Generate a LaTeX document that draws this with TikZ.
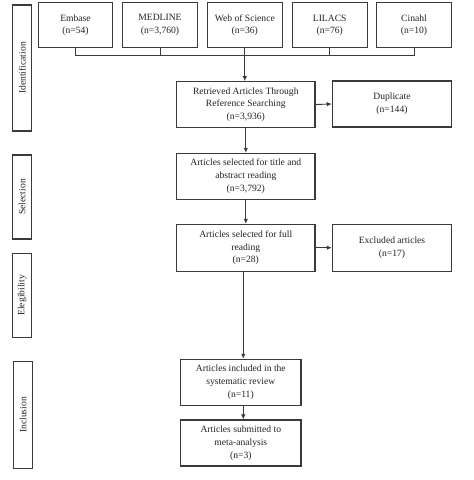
\documentclass[tikz,border=0pt]{standalone}
\usepackage{fontspec}
\setmainfont{Liberation Serif}
\usetikzlibrary{arrows.meta}
\definecolor{ln}{HTML}{3A3A3A}
\definecolor{tx}{HTML}{222222}
\begin{document}
\begin{tikzpicture}[x=1pt,y=-1pt,
  box/.style={draw=ln,line width=1.1pt,rectangle,inner sep=1pt,align=center,
    text=tx,font=\fontsize{9.6}{12.7}\selectfont},
  side/.style={draw=ln,line width=1.1pt,rectangle,inner sep=0pt,minimum width=19,
    text=tx,font=\fontsize{9.6}{11}\selectfont},
  conn/.style={draw=ln,line width=0.9pt},
  arr/.style={conn,-{Latex[length=5pt,width=4.5pt]}}]
\useasboundingbox (0,0) rectangle (474,480);
% sources
\node[box,minimum width=74.4,minimum height=45] (emb) at (75.5,25.2) {Embase\\(n=54)};
\node[box,minimum width=74.6,minimum height=45] (med) at (160,25.2) {MEDLINE\\(n=3,760)};
\node[box,minimum width=75,minimum height=45] (wos) at (244.8,25.2) {Web of Science\\(n=36)};
\node[box,minimum width=74.7,minimum height=45] (lil) at (329.7,25.2) {LILACS\\(n=76)};
\node[box,minimum width=74.6,minimum height=45] (cin) at (414,25.2) {Cinahl\\(n=10)};
% main flow
\node[box,minimum width=138.3,minimum height=45.6] (ret) at (245.8,104.5) {Retrieved Articles Through\\Reference Searching\\(n=3,936)};
\node[box,minimum width=119.4,minimum height=46] (dup) at (392,104) {Duplicate\\(n=144)};
\node[box,minimum width=138.3,minimum height=45.7] (tit) at (245.8,176.2) {Articles selected for title and\\abstract reading\\(n=3,792)};
\node[box,minimum width=138.3,minimum height=46.7] (ful) at (245.8,247.7) {Articles selected for full\\reading\\(n=28)};
\node[box,minimum width=119.4,minimum height=46.7] (exc) at (392,247.7) {Excluded articles\\(n=17)};
\node[box,minimum width=120.3,minimum height=45.7] (inc) at (240.8,382.2) {Articles included in the\\systematic review\\(n=11)};
\node[box,minimum width=120.3,minimum height=46] (met) at (240.8,443) {Articles submitted to\\meta-analysis\\(n=3)};
% side labels
\node[side,minimum height=126] (sid) at (22.2,68) {};
\node[rotate=90,text=tx,font=\fontsize{9.6}{11}\selectfont] (tid) at (sid.center) {Identification};
\node[side,minimum height=84] (ssel) at (22.2,197) {};
\node[rotate=90,text=tx,font=\fontsize{9.6}{11}\selectfont] (tsel) at (ssel.center) {Selection};
\node[side,minimum height=84] (sel) at (22.2,295.3) {};
\node[rotate=90,text=tx,font=\fontsize{9.6}{11}\selectfont] (tel) at (sel.center) {Elegibility};
\node[side,minimum height=106.6] (sin) at (23.1,415) {};
\node[rotate=90,text=tx,font=\fontsize{9.6}{11}\selectfont] (tin) at (sin.center) {Inclusion};
% bus
\coordinate (busL) at (emb.south |- 0,55);
\coordinate (busR) at (cin.south |- 0,55);
\draw[conn] (emb.south) -- (busL) -- (busR) -- (cin.south);
\draw[conn] (med.south) -- (med.south |- busL);
\draw[conn] (lil.south) -- (lil.south |- busL);
\draw[arr] (wos.south) -- (ret.north -| wos.south);
% arrows
\coordinate (fs) at ([xshift=-2.5pt]ful.south);
\coordinate (is) at ([xshift=2.5pt]inc.south);
\draw[arr] (ret.east) -- (dup.west);
\draw[arr] (ret.south) -- (tit.north);
\draw[arr] (tit.south) -- (ful.north);
\draw[arr] (ful.east) -- (exc.west);
\draw[arr] (fs) -- (inc.north -| fs);
\draw[arr] (is) -- (met.north -| is);
\end{tikzpicture}
\end{document}
